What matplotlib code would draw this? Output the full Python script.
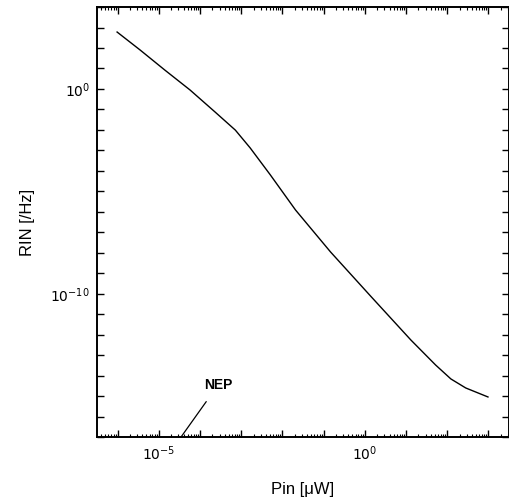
import numpy as np
import matplotlib.pyplot as plt
from matplotlib.ticker import LogLocator, FixedLocator, FuncFormatter

# curve (log10 values)
log_pin = [-6.01, -5.45, -4.85, -4.24, -3.63, -3.14, -2.78, -2.29, -1.68, -0.83,
           0.14, 1.12, 1.72, 2.09, 2.45, 2.99]
log_rin = [2.78, 1.90, 0.92, -0.05, -1.13, -2.01, -2.88, -4.20, -5.91, -7.96,
           -10.11, -12.26, -13.48, -14.16, -14.60, -15.04]

x_labelled = [-5, 0]
y_labelled = [0, -10]

plt.rcParams['font.family'] = ['Liberation Sans', 'DejaVu Sans']

fig = plt.figure(figsize=(5.1, 5.03), dpi=100)
ax = fig.add_axes([0.190, 0.131, 0.808, 0.855])

ax.plot(10 ** np.array(log_pin), 10 ** np.array(log_rin), color='black', lw=1.0)

ax.set_xscale('log')
ax.set_yscale('log')
ax.set_xlim(10 ** -6.5, 10 ** 3.5)
ax.set_ylim(1e-17, 1e4)

def sci_label(exps):
    def fmt(v, pos):
        e = np.log10(v)
        for t in exps:
            if abs(e - t) < 1e-6:
                return r'$10^{%d}$' % t
        return ''
    return FuncFormatter(fmt)

ax.xaxis.set_major_locator(FixedLocator(10.0 ** np.arange(-7, 5)))
ax.xaxis.set_minor_locator(LogLocator(base=10, subs=np.arange(2, 10), numticks=20))
ax.xaxis.set_major_formatter(sci_label(x_labelled))
ax.xaxis.set_minor_formatter(FuncFormatter(lambda v, p: ''))

ax.yaxis.set_major_locator(FixedLocator(10.0 ** np.arange(-17, 5)))
ax.yaxis.set_minor_locator(FixedLocator([]))
ax.yaxis.set_major_formatter(sci_label(y_labelled))

ax.tick_params(which='major', direction='in', length=5, width=1.0, top=True, right=True,
               labelsize=10, pad=5)
ax.tick_params(which='minor', direction='in', length=2.5, width=0.8, top=True, right=True)

for s in ax.spines.values():
    s.set_linewidth(1.4)

ax.set_xlabel('Pin [\u03bcW]', fontsize=12, labelpad=14)
ax.set_ylabel('RIN [/Hz]', fontsize=12, labelpad=11)

ax.annotate('NEP', xy=(10 ** -4.46, 1e-17), xytext=(10 ** -3.56, 10 ** -14.8),
            ha='center', va='bottom', fontsize=10, fontweight='bold',
            arrowprops=dict(arrowstyle='-', color='black', lw=0.9, shrinkA=6, shrinkB=0))

fig.savefig('out.png', dpi=100)
